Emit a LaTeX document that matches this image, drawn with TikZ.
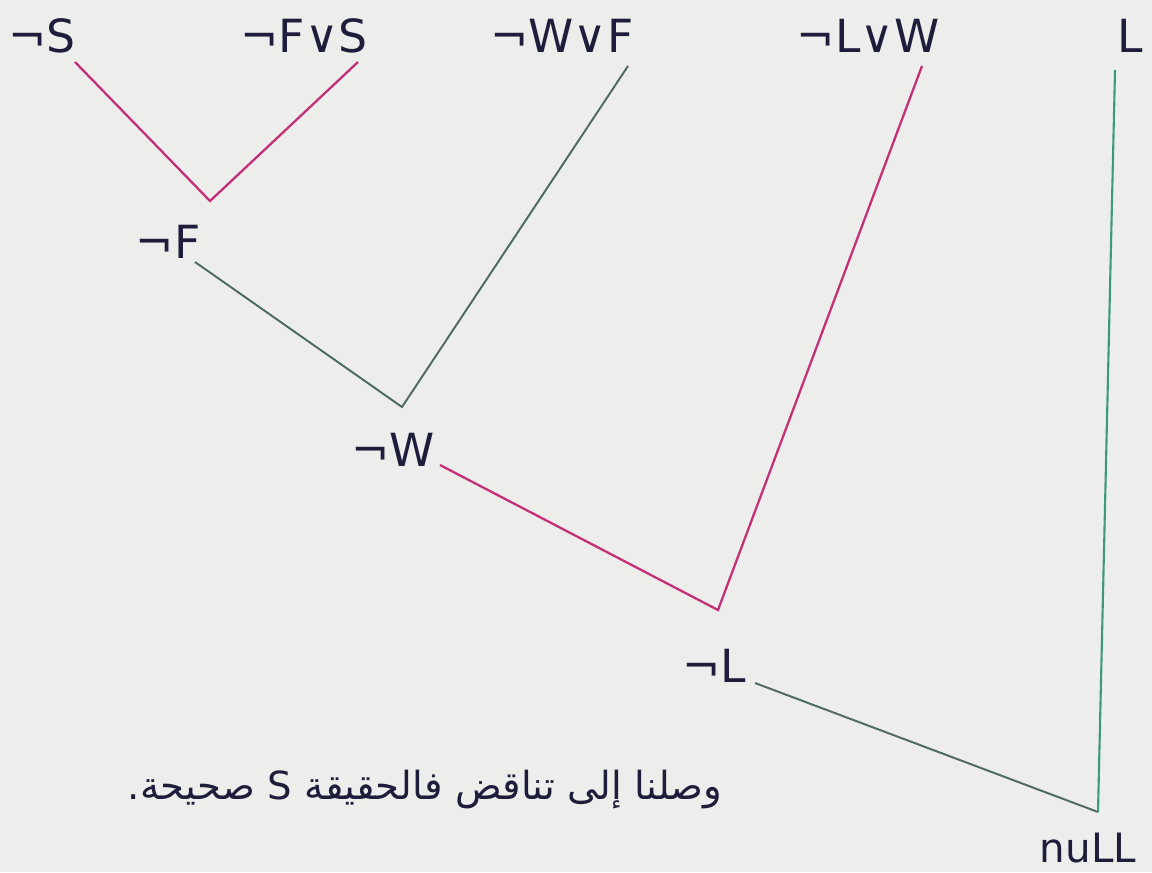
\documentclass[tikz,border=0pt]{standalone}
\usepackage{fontspec}
\setmainfont{DejaVu Sans}
\newfontfamily\arabicfont[Script=Arabic]{DejaVu Sans}
\TeXXeTstate=1
\definecolor{ink}{HTML}{1E1E3C}
\definecolor{mag}{HTML}{C43078}
\definecolor{gg}{HTML}{4E6A5C}
\definecolor{grn}{HTML}{3C9A74}
\definecolor{paper}{HTML}{EDEDEB}
\tikzset{
  lbl/.style={text=ink, font=\fontsize{26}{30}\selectfont, inner sep=0pt},
  magline/.style={draw=mag, line width=1.3pt},
  ggline/.style={draw=gg, line width=1.1pt},
  grnline/.style={draw=grn, line width=1.2pt}
}
\begin{document}
\begin{tikzpicture}[x=0.02cm,y=-0.02cm]
\fill[paper] (0,0) rectangle (1152,872);
\useasboundingbox (0,0) rectangle (1152,872);
% clauses
\node[lbl] (nS) at (42,36) {¬S};
\node[lbl] (FvS) at (304,36) {¬F∨S};
\node[lbl] (WvF) at (562,36) {¬W∨F};
\node[lbl] (LvW) at (868,36) {¬L∨W};
\node[lbl] (L) at (1130,36) {L};
\node[lbl] (nF) at (168,242) {¬F};
\node[lbl] (nW) at (393,450) {¬W};
\node[lbl] (nL) at (714,666) {¬L};
\node[lbl, font=\fontsize{23}{27}\selectfont] (null) at (1088,848) {nuLL};
% connector ends
\coordinate (a1) at (75,62);
\coordinate (a2) at (358,62);
\coordinate (j1) at (210,201);
\coordinate (b1) at (195,262);
\coordinate (b2) at (628,66);
\coordinate (j2) at (402,407);
\coordinate (c1) at (440,465);
\coordinate (c2) at (922,66);
\coordinate (j3) at (718,610);
\coordinate (d1) at (755,683);
\coordinate (d2) at (1115,70);
\coordinate (j4) at (1098,812);
\draw[magline] (a1) -- (j1) -- (a2);
\draw[ggline] (b1) -- (j2) -- (b2);
\draw[magline] (c1) -- (j3) -- (c2);
\draw[ggline] (d1) -- (j4);
\draw[grnline] (d2) -- (j4);
% note
\node[text=ink, font=\arabicfont\fontsize{22}{26}\selectfont, inner sep=0pt] (note) at (425,790)
  {\beginR وصلنا إلى تناقض فالحقيقة \beginL S\endL{} صحيحة.\endR};
\end{tikzpicture}
\end{document}
